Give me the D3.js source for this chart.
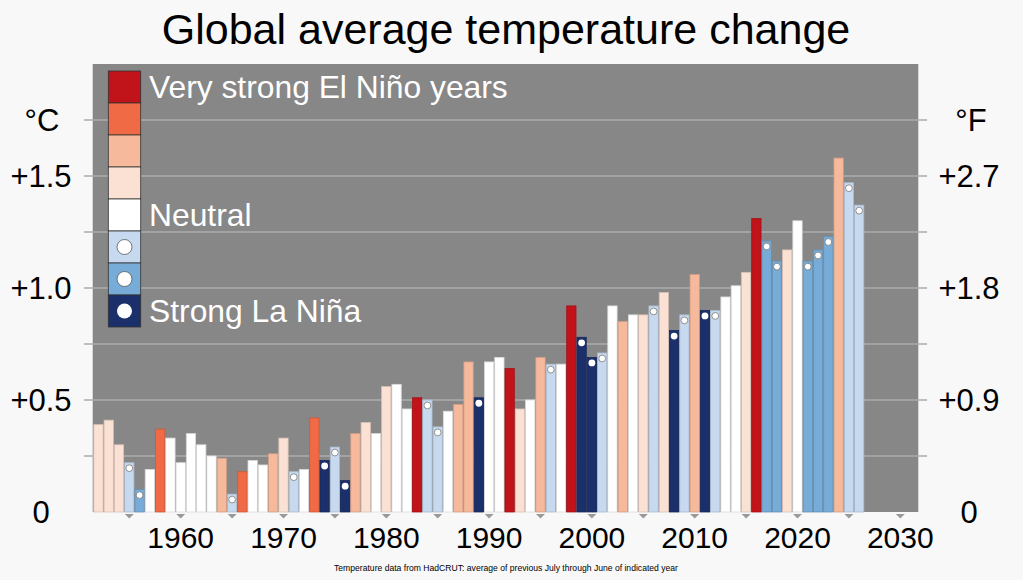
<!DOCTYPE html>
<html>
<head>
<meta charset="utf-8">
<script src="https://cdn.jsdelivr.net/npm/d3@7"></script>
<style>
  html, body { margin: 0; padding: 0; background: #f8f8f8; }
  svg { display: block; font-family: "Liberation Sans", Arial, sans-serif; }
</style>
</head>
<body>
<div id="chart"></div>
<script>
// ENSO category per year: VS very strong El Niño, S strong, M moderate, W weak,
// N neutral, WL weak La Niña, ML moderate La Niña, SL strong La Niña
const years = [1952, 1953, 1954, 1955, 1956, 1957, 1958, 1959, 1960, 1961,
  1962, 1963, 1964, 1965, 1966, 1967, 1968, 1969, 1970, 1971,
  1972, 1973, 1974, 1975, 1976, 1977, 1978, 1979, 1980, 1981,
  1982, 1983, 1984, 1985, 1986, 1987, 1988, 1989, 1990, 1991,
  1992, 1993, 1994, 1995, 1996, 1997, 1998, 1999, 2000, 2001,
  2002, 2003, 2004, 2005, 2006, 2007, 2008, 2009, 2010, 2011,
  2012, 2013, 2014, 2015, 2016, 2017, 2018, 2019, 2020, 2021,
  2022, 2023, 2024, 2025, 2026];

const anomalies = [0.39, 0.41, 0.30, 0.22, 0.10, 0.19, 0.37, 0.33, 0.22, 0.35,
  0.30, 0.25, 0.24, 0.08, 0.18, 0.23, 0.21, 0.26, 0.33, 0.18,
  0.19, 0.42, 0.23, 0.29, 0.14, 0.35, 0.40, 0.35, 0.56, 0.57,
  0.46, 0.51, 0.50, 0.38, 0.45, 0.48, 0.67, 0.51, 0.67, 0.69,
  0.64, 0.46, 0.50, 0.69, 0.66, 0.66, 0.92, 0.78, 0.69, 0.71,
  0.92, 0.85, 0.88, 0.88, 0.92, 0.98, 0.81, 0.88, 1.06, 0.90,
  0.90, 0.96, 1.01, 1.07, 1.31, 1.21, 1.12, 1.17, 1.30, 1.12,
  1.17, 1.23, 1.58, 1.47, 1.37];

const enso = ["W", "W", "W", "WL", "ML", "N", "S", "N", "N", "N",
  "N", "N", "M", "WL", "S", "N", "N", "M", "W", "WL",
  "N", "S", "SL", "WL", "SL", "M", "W", "N", "W", "N",
  "N", "VS", "WL", "WL", "N", "M", "M", "SL", "N", "N",
  "VS", "W", "N", "M", "WL", "N", "VS", "SL", "SL", "WL",
  "N", "M", "N", "W", "WL", "W", "SL", "WL", "M", "SL",
  "WL", "N", "N", "W", "VS", "ML", "ML", "W", "N", "ML",
  "ML", "ML", "M", "WL", "WL"];

const categories = ["VS", "S", "M", "W", "N", "WL", "ML", "SL"];
const categoryColors = ["#c1131a", "#ef6a45", "#f6b99c", "#fbe1d4", "#ffffff", "#c7d9ee", "#76acd7", "#1b2f6a"];
const legendLabels = {VS: "Very strong El Niño years", N: "Neutral", SL: "Strong La Niña"};

const celsiusTicks = [0, 0.5, 1.0, 1.5];
const celsiusLabels = ["0", "+0.5", "+1.0", "+1.5"];
const fahrenheitLabels = ["0", "+0.9", "+1.8", "+2.7"];
const gridTicks = [0, 0.25, 0.5, 0.75, 1.0, 1.25, 1.5, 1.75, 2.0];
const decadeTicks = [1960, 1970, 1980, 1990, 2000, 2010, 2020, 2030];
const markerTicks = [1955, 1960, 1965, 1970, 1975, 1980, 1985, 1990, 1995, 2000, 2005, 2010, 2015, 2020, 2025, 2030];

const data = years.map((year, i) => ({year, value: anomalies[i], cat: enso[i]}));

const W = 1023, H = 580;
const plot = {left: 92.7, right: 918.3, top: 64, bottom: 512};

const svg = d3.select("#chart").append("svg")
    .attr("width", W)
    .attr("height", H);

const color = d3.scaleOrdinal().domain(categories).range(categoryColors);

const x = d3.scaleLinear()
    .domain([1960, 2030])
    .range([180.7, 900.3]);
const barW = 9.3;

const y = d3.scaleLinear()
    .domain([0, 2])
    .range([plot.bottom, plot.top]);

// title
svg.append("text")
    .attr("x", 506)
    .attr("y", 44)
    .attr("text-anchor", "middle")
    .attr("font-size", 43)
    .attr("fill", "#000")
    .text("Global average temperature change");

// plot background
svg.append("rect")
    .attr("x", plot.left)
    .attr("y", plot.top)
    .attr("width", plot.right - plot.left)
    .attr("height", plot.bottom - plot.top)
    .attr("fill", "#878787");

// gridlines + outside tick stubs
svg.append("g")
    .selectAll("line")
    .data(gridTicks.filter(d => d > 0 && d < 2))
    .enter()
    .append("line")
        .attr("x1", 84)
        .attr("x2", 927)
        .attr("y1", d => y(d))
        .attr("y2", d => y(d))
        .attr("stroke", "#adadad")
        .attr("stroke-width", 1.5);

// left axis (°C)
const left = svg.append("g").attr("font-size", 31).attr("text-anchor", "middle");
left.selectAll("text")
    .data(celsiusTicks)
    .enter()
    .append("text")
        .attr("x", 41)
        .attr("y", d => y(d))
        .attr("dy", "0.36em")
        .text((d, i) => celsiusLabels[i]);
left.append("text")
    .attr("x", 42)
    .attr("y", y(1.75))
    .attr("dy", "0.36em")
    .text("°C");

// right axis (°F)
const right = svg.append("g").attr("font-size", 31).attr("text-anchor", "middle");
right.selectAll("text")
    .data(celsiusTicks)
    .enter()
    .append("text")
        .attr("x", 969)
        .attr("y", d => y(d))
        .attr("dy", "0.36em")
        .text((d, i) => fahrenheitLabels[i]);
right.append("text")
    .attr("x", 971)
    .attr("y", y(1.75))
    .attr("dy", "0.36em")
    .text("°F");

// bars
const bars = svg.append("g").attr("class", "bars");
bars.selectAll("rect")
    .data(data)
    .enter()
    .append("rect")
        .attr("x", d => x(d.year) - barW / 2)
        .attr("y", d => y(d.value))
        .attr("width", barW)
        .attr("height", d => y(0) - y(d.value))
        .attr("fill", d => color(d.cat))
        .attr("stroke", d => d3.color(color(d.cat)).darker(0.45))
        .attr("stroke-width", 0.8);

// La Niña dots
bars.selectAll("circle")
    .data(data.filter(d => d.cat === "WL" || d.cat === "ML" || d.cat === "SL"))
    .enter()
    .append("circle")
        .attr("cx", d => x(d.year))
        .attr("cy", d => y(d.value) + 5.5)
        .attr("r", 3.4)
        .attr("fill", "#fff")
        .attr("stroke", d => d.cat === "SL" ? "none" : "#777")
        .attr("stroke-width", 0.8);

// x axis markers
svg.append("g")
    .selectAll("path")
    .data(markerTicks)
    .enter()
    .append("path")
        .attr("d", d => `M${x(d) - 4.5},514 L${x(d) + 4.5},514 L${x(d)},518.5 Z`)
        .attr("fill", "#999");

svg.append("g")
    .attr("font-size", 30)
    .attr("text-anchor", "middle")
    .selectAll("text")
    .data(decadeTicks)
    .enter()
    .append("text")
        .attr("x", d => x(d))
        .attr("y", 548)
        .text(d => d);

// legend
const sw = {x: 108.3, y: 71, w: 32.4, h: 32};
const legend = svg.append("g").attr("class", "legend");
legend.selectAll("rect")
    .data(categories)
    .enter()
    .append("rect")
        .attr("x", sw.x)
        .attr("y", (d, i) => sw.y + i * sw.h)
        .attr("width", sw.w)
        .attr("height", sw.h)
        .attr("fill", d => color(d))
        .attr("stroke", "#333")
        .attr("stroke-width", 0.8);
legend.selectAll("circle")
    .data(categories.filter(d => d === "WL" || d === "ML" || d === "SL"))
    .enter()
    .append("circle")
        .attr("cx", sw.x + sw.w / 2)
        .attr("cy", d => sw.y + categories.indexOf(d) * sw.h + sw.h / 2)
        .attr("r", 7.5)
        .attr("fill", "#fff")
        .attr("stroke", d => d === "SL" ? "none" : "#555")
        .attr("stroke-width", 0.8);
legend.selectAll("text")
    .data(categories.filter(d => legendLabels[d]))
    .enter()
    .append("text")
        .attr("x", 149)
        .attr("y", d => sw.y + categories.indexOf(d) * sw.h + sw.h / 2)
        .attr("dy", "0.36em")
        .attr("font-size", 31.8)
        .attr("fill", "#fff")
        .text(d => legendLabels[d]);

// source note
svg.append("text")
    .attr("x", 506)
    .attr("y", 571)
    .attr("text-anchor", "middle")
    .attr("font-size", 8.6)
    .attr("fill", "#000")
    .text("Temperature data from HadCRUT: average of previous July through June of indicated year");
</script>
</body>
</html>
